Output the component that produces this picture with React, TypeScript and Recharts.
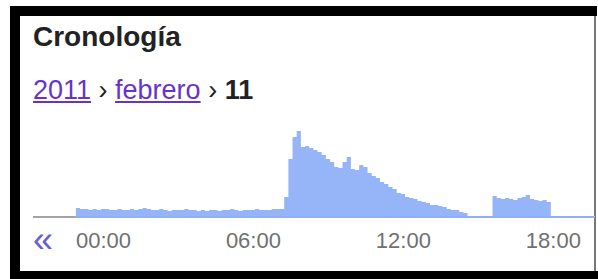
import { AreaChart, Area, XAxis, YAxis, ReferenceLine } from "recharts";

// hits per 10-minute bin
const BIN_MINUTES = 10;
const nightHits = [
  9, 8, 8, 7, 8, 7, 8, 8, 7, 7, 8, 7, 7, 8, 7, 8, 9, 8, 7, 7, 8, 7, 6, 7, 7,
  7, 8, 7, 7, 6, 7, 6, 7, 7, 6, 7, 7, 8, 7, 6, 7, 7, 7, 8, 7, 7, 7, 8, 8, 8,
]; // 00:00 - 08:10
const morningHits = [
  20, 58, 80, 86, 70, 71, 69, 67, 65, 62, 58, 55, 50, 49, 55, 60, 48, 47, 52,
  50, 44, 41, 39, 35, 33, 30, 28, 24, 23, 20, 19, 18, 16, 15, 14, 12, 12, 11,
  10, 8, 7, 7, 5, 4,
]; // 08:20 - 15:30
const gapHits = [1, 1, 1, 1, 1, 1]; // 15:40 - 16:30
const eveningHits = [21, 19, 18, 19, 18, 17, 19, 20, 22, 18, 17, 16, 17, 15]; // 16:40 - 18:50
const tailHits = [0];

const tickMinutes = [0, 360, 720, 1080];
const tickLabels = ["00:00", "06:00", "12:00", "18:00"];

const dayStart = -103; // part of the previous day still visible
const dayEnd = 1246;

const allHits = [...nightHits, ...morningHits, ...gapHits, ...eveningHits, ...tailHits];
const data = allHits.map((hits, i) => ({ minute: i * BIN_MINUTES, hits }));
data.push({ minute: dayEnd, hits: 0 });

const FONT = "Arial, 'Liberation Sans', sans-serif";

function TimeTick(props: any) {
  const { x, y, payload } = props;
  const label = tickLabels[tickMinutes.indexOf(payload.value)];
  return (
    <text x={x} y={y} dy={23} textAnchor="start" fill="#707070" fontSize={22} fontFamily={FONT}>
      {label}
    </text>
  );
}

export default function App() {
  return (
    <div
      style={{
        position: "absolute",
        left: 0,
        top: 0,
        width: 598,
        height: 279,
        background: "#fff",
        fontFamily: FONT,
        overflow: "hidden",
      }}
    >
      {/* frame */}
      <div style={{ position: "absolute", left: 10, top: 6, width: 587, height: 10, background: "#000" }} />
      <div style={{ position: "absolute", left: 10, top: 6, width: 10, height: 273, background: "#000" }} />
      <div style={{ position: "absolute", left: 10, top: 271, width: 588, height: 8, background: "#000" }} />
      <div style={{ position: "absolute", left: 594, top: 16, width: 2, height: 255, background: "#777" }} />

      {/* header */}
      <div
        style={{
          position: "absolute",
          left: 33,
          top: 23,
          fontSize: 28,
          lineHeight: 1,
          fontWeight: "bold",
          color: "#222",
        }}
      >
        Cronología
      </div>
      <div style={{ position: "absolute", left: 33, top: 77, fontSize: 27, lineHeight: 1, color: "#222", whiteSpace: "nowrap" }}>
        <a href="#" style={{ color: "#6633cc" }}>2011</a>
        {" › "}
        <a href="#" style={{ color: "#6633cc" }}>febrero</a>
        {" › "}
        <b>11</b>
      </div>

      <AreaChart
        width={598}
        height={279}
        data={data}
        margin={{ top: 129, right: 3, bottom: 30, left: 33 }}
        style={{ position: "absolute", left: 0, top: 0 }}
      >
        <XAxis
          type="number"
          dataKey="minute"
          domain={[dayStart, dayEnd]}
          ticks={tickMinutes}
          interval={0}
          tick={<TimeTick />}
          axisLine={false}
          tickLine={false}
          height={32}
          allowDataOverflow
        />
        <YAxis hide domain={[0, 88]} allowDataOverflow />
        <Area
          type="stepAfter"
          dataKey="hits"
          stroke="none"
          fill="#96b4f8"
          fillOpacity={1}
          isAnimationActive={false}
        />
        <ReferenceLine
          segment={[{ x: dayStart, y: 0 }, { x: 0, y: 0 }]}
          stroke="#a3a3a3"
          strokeWidth={2}
        />
        <ReferenceLine
          segment={[{ x: 0, y: 0 }, { x: dayEnd, y: 0 }]}
          stroke="#8fb0f7"
          strokeWidth={2}
        />
      </AreaChart>

      <div style={{ position: "absolute", left: 33, top: 222, fontSize: 36, lineHeight: 1, color: "#6a5fd0" }}>«</div>
    </div>
  );
}
